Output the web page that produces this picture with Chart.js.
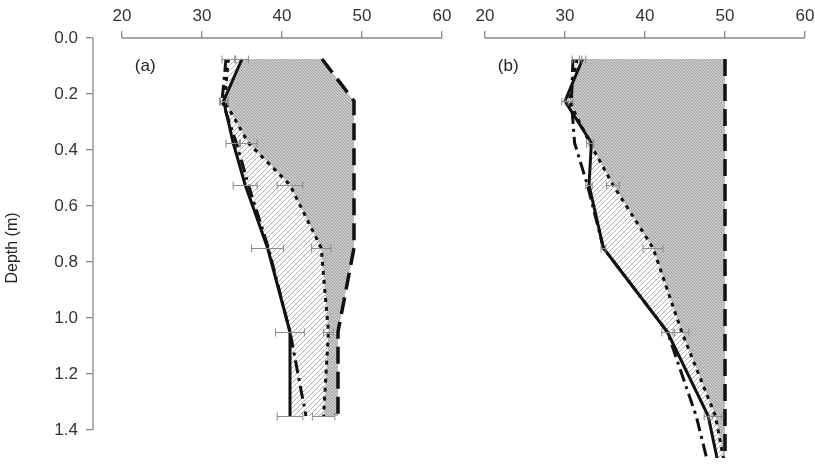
<!DOCTYPE html>
<html>
<head>
<meta charset="utf-8">
<script src="https://cdn.jsdelivr.net/npm/chart.js@4.4.0/dist/chart.umd.min.js"></script>
<style>
  html, body { margin: 0; padding: 0; background: #fff; }
  #wrap { position: relative; width: 815px; height: 464px; overflow: hidden; }
  #panelA { position: absolute; left: 0; top: 0; }
  #panelB { position: absolute; left: 456px; top: 0; }
</style>
</head>
<body>
<div id="wrap">
  <canvas id="panelA" width="456" height="464"></canvas>
  <canvas id="panelB" width="359" height="464"></canvas>
</div>
<script>
// sampling depths (m)
const depthsA = [0.075, 0.225, 0.375, 0.525, 0.75, 1.05, 1.35];
const depthsB = [0.075, 0.225, 0.375, 0.525, 0.75, 1.05, 1.35, 1.5];

// panel (a)
const solidA   = [35.0, 32.7, 33.9, 35.4, 38.2, 41.0, 41.0];
const dottedA  = [33.3, 32.8, 35.8, 41.0, 44.9, 45.8, 45.2];
const dashedA  = [45.0, 49.0, 49.0, 49.0, 49.0, 47.0, 47.0];
const dashDotA = [33.0, 32.5, 34.3, 35.8, 38.3, 41.0, 43.0];
const solidErrA  = [0.8, 0.5, 0.9, 1.5, 2.0, 1.8, 1.6];
const dottedErrA = [0.8, 0.5, 1.1, 1.6, 1.2, 0.6, 1.4];

// panel (b)
const solidB   = [32.2, 30.0, 33.3, 33.0, 34.8, 42.8, 47.9, 49.0];
const dottedB  = [31.5, 30.5, 33.1, 36.0, 41.0, 44.6, 48.8, 49.8];
const dashedB  = [50, 50, 50, 50, 50, 50, 50, 50];
const dashDotB = [31.0, 30.8, 31.2, 32.8, 34.8, 42.8, 46.4, 47.7];
const solidErrB  = [0.4, 0.4, 0.3, 0.4, 0.3, 0.7, 0.5, null];
const dottedErrB = [0.6, 0.5, 0.4, 0.8, 1.25, 0.9, 0.8, null];

const xTicks = [20, 30, 40, 50, 60];
const yTicks = [0, 0.2, 0.4, 0.6, 0.8, 1.0, 1.2, 1.4];

Chart.defaults.font.family = "'Liberation Sans', Arial, sans-serif";
Chart.defaults.color = '#333';

const axisGray = '#8a8a8a';

// diagonal hatch fill
function hatch(bg, fg, gap, dir) {
  const c = document.createElement('canvas');
  c.width = gap; c.height = gap;
  const g = c.getContext('2d');
  g.fillStyle = bg;
  g.fillRect(0, 0, gap, gap);
  g.strokeStyle = fg;
  g.lineWidth = 1;
  g.beginPath();
  if (dir > 0) {
    g.moveTo(-1, gap + 1); g.lineTo(gap + 1, -1);
    g.moveTo(-1, 1); g.lineTo(1, -1);
    g.moveTo(gap - 1, gap + 1); g.lineTo(gap + 1, gap - 1);
  } else {
    g.moveTo(-1, -1); g.lineTo(gap + 1, gap + 1);
    g.moveTo(gap - 1, -1); g.lineTo(gap + 1, 1);
    g.moveTo(-1, gap - 1); g.lineTo(1, gap + 1);
  }
  g.stroke();
  return g.createPattern(c, 'repeat');
}
const grayHatch = hatch('#cacaca', '#a0a0a0', 3, -1);
const lightHatch = hatch('#ffffff', '#adadad', 5, 1);

const pts = (xs, ds) => xs.map((v, i) => ({ x: v, y: ds[i] }));

function makeDatasets(depths, solid, dotted, dashed, dashDot) {
  return [
    { label: 'dash-dot', data: pts(dashDot, depths), borderColor: '#111', borderWidth: 3,
      borderDash: [13, 5, 3, 5], fill: false },
    { label: 'solid', data: pts(solid, depths), borderColor: '#111', borderWidth: 3, fill: false },
    { label: 'dotted', data: pts(dotted, depths), borderColor: '#111', borderWidth: 3,
      borderDash: [4, 5], fill: 1, backgroundColor: lightHatch },
    { label: 'dashed', data: pts(dashed, depths), borderColor: '#111', borderWidth: 3.5,
      borderDash: [17, 8], fill: 2, backgroundColor: grayHatch }
  ];
}

function errorBars(sets) {
  return {
    id: 'errbars',
    afterDatasetsDraw(chart) {
      const { ctx, scales: { x, y } } = chart;
      ctx.save();
      ctx.strokeStyle = '#8c8c8c';
      ctx.lineWidth = 1;
      sets.forEach(s => {
        s.values.forEach((v, i) => {
          const e = s.errors[i];
          if (e == null) return;
          const py = Math.round(y.getPixelForValue(s.depths[i])) + 0.5;
          const x1 = x.getPixelForValue(v - e);
          const x2 = x.getPixelForValue(v + e);
          ctx.beginPath();
          ctx.moveTo(x1, py); ctx.lineTo(x2, py);
          ctx.moveTo(x1, py - 4); ctx.lineTo(x1, py + 4);
          ctx.moveTo(x2, py - 4); ctx.lineTo(x2, py + 4);
          ctx.stroke();
        });
      });
      ctx.restore();
    }
  };
}

function axisLines(showY, panelLabel) {
  return {
    id: 'axislines',
    afterDraw(chart) {
      const { ctx, chartArea, scales: { x, y } } = chart;
      ctx.save();
      ctx.strokeStyle = axisGray;
      ctx.lineWidth = 1.3;
      ctx.beginPath();
      ctx.moveTo(x.getPixelForValue(xTicks[0]), chartArea.top);
      ctx.lineTo(x.getPixelForValue(xTicks[xTicks.length - 1]), chartArea.top);
      if (showY) {
        ctx.moveTo(chartArea.left, y.getPixelForValue(yTicks[0]));
        ctx.lineTo(chartArea.left, y.getPixelForValue(yTicks[yTicks.length - 1]));
      }
      ctx.stroke();
      ctx.fillStyle = '#222';
      ctx.font = "17px 'Liberation Sans', Arial, sans-serif";
      ctx.textBaseline = 'middle';
      ctx.textAlign = 'left';
      ctx.fillText(panelLabel, x.getPixelForValue(21.6), y.getPixelForValue(0.1));
      ctx.restore();
    }
  };
}

function makeChart(id, depths, solid, dotted, dashed, dashDot, solidErr, dottedErr, showY, label, xMax) {
  return new Chart(document.getElementById(id), {
    type: 'line',
    data: { datasets: makeDatasets(depths, solid, dotted, dashed, dashDot) },
    options: {
      indexAxis: 'y',
      responsive: false,
      animation: false,
      devicePixelRatio: 1,
      layout: { padding: { left: 0, top: 0, right: 0, bottom: 6 } },
      elements: { point: { radius: 0 }, line: { tension: 0 } },
      plugins: {
        legend: { display: false },
        tooltip: { enabled: false },
        filler: { drawTime: 'beforeDatasetsDraw' }
      },
      scales: {
        x: {
          type: 'linear', position: 'top', min: 16.375, max: xMax,
          afterBuildTicks: s => { s.ticks = xTicks.map(v => ({ value: v })); },
          afterFit: s => { s.height = 38; s.paddingLeft = 0; s.paddingRight = 0; },
          grid: { drawOnChartArea: false, drawTicks: true, tickLength: 7, color: axisGray, lineWidth: 1.3 },
          border: { display: false },
          ticks: { font: { size: 17 }, color: '#333', padding: 4, maxRotation: 0 }
        },
        y: {
          type: 'linear', display: showY, reverse: true, min: 0, max: 1.5,
          afterBuildTicks: s => { s.ticks = yTicks.map(v => ({ value: v })); },
          afterFit: s => { if (showY) s.width = 93; s.paddingTop = 0; s.paddingBottom = 0; },
          grid: { drawOnChartArea: false, drawTicks: true, tickLength: 7, color: axisGray, lineWidth: 1.3 },
          border: { display: false },
          ticks: { font: { size: 17 }, color: '#333', padding: 8, callback: v => Number(v).toFixed(1) },
          title: { display: true, text: 'Depth (m)', font: { size: 16 }, color: '#222', padding: { top: 3, bottom: 0 } }
        }
      }
    },
    plugins: [
      errorBars([
        { depths: depths, values: solid, errors: solidErr },
        { depths: depths, values: dotted, errors: dottedErr }
      ]),
      axisLines(showY, label)
    ]
  });
}

makeChart('panelA', depthsA, solidA, dottedA, dashedA, dashDotA, solidErrA, dottedErrA, true, '(a)', 61.75);
makeChart('panelB', depthsB, solidB, dottedB, dashedB, dashDotB, solidErrB, dottedErrB, false, '(b)', 61.25);
</script>
</body>
</html>
